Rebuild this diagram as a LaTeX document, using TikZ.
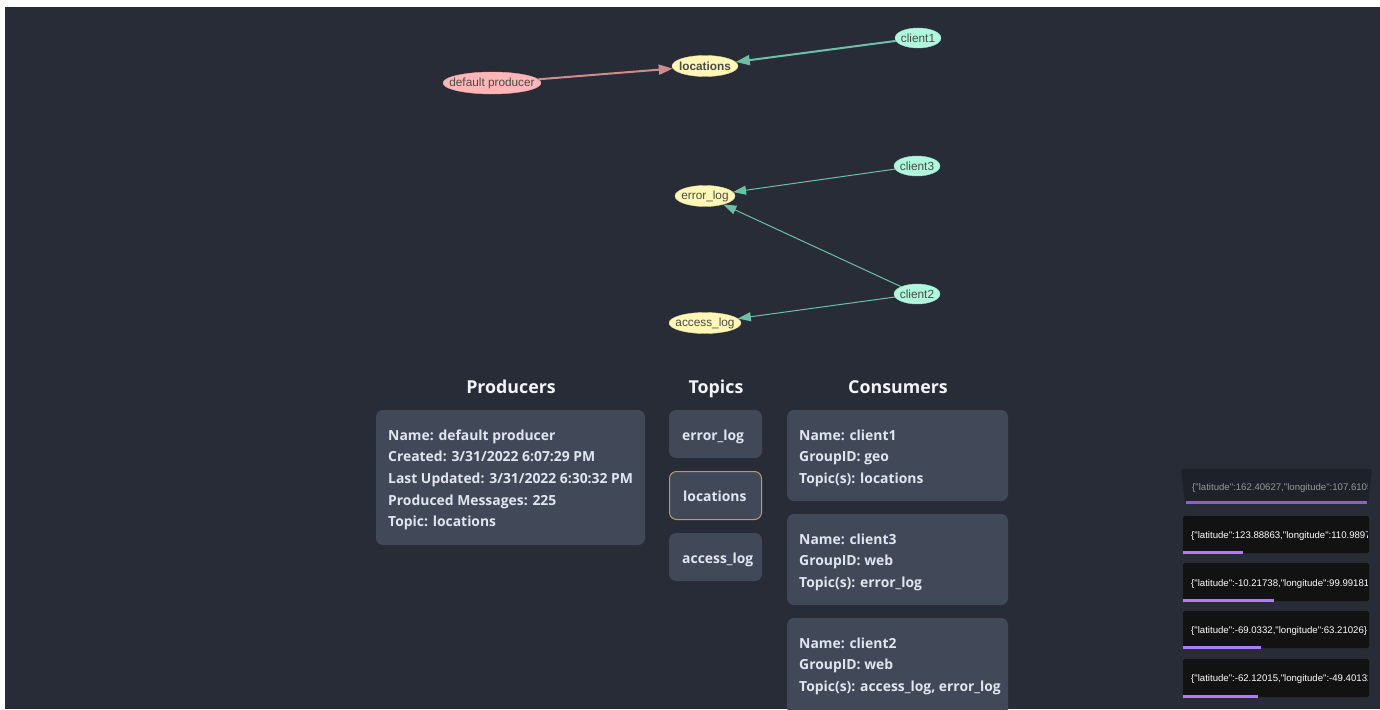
\documentclass[tikz,border=0pt]{standalone}
\usepackage{fontspec}
\setmainfont{Open Sans}
\newfontfamily\arialfont{Liberation Sans}
\usetikzlibrary{shapes.geometric,arrows.meta}
\definecolor{bgc}{HTML}{282C37}
\definecolor{panelc}{HTML}{414858}
\definecolor{ptext}{HTML}{E1E6EE}
\definecolor{htext}{HTML}{F2F4F7}
\definecolor{pinkfill}{HTML}{FFB6B6}
\definecolor{pinkedge}{HTML}{D08C8C}
\definecolor{yelfill}{HTML}{FFF7B3}
\definecolor{mintfill}{HTML}{AEF8DE}
\definecolor{mintedge}{HTML}{6CC0A4}
\definecolor{gtext}{HTML}{4A4A4A}
\definecolor{goldc}{HTML}{B89C68}
\definecolor{toastc}{HTML}{121212}
\definecolor{toastfade}{HTML}{1E2129}
\definecolor{purplec}{HTML}{B07CF5}
\definecolor{purplefade}{HTML}{8A63C0}
\newcommand{\zw}[1]{\makebox[0pt][c]{#1}}
\begin{document}
\begin{tikzpicture}[x=1pt,y=-1pt,
  gnode/.style={ellipse, inner sep=0pt, text=gtext, font=\arialfont\fontsize{11.8}{13}\selectfont},
  prodnode/.style={gnode, fill=pinkfill, draw=pinkfill!88!black, minimum width=98, minimum height=22},
  topicnode/.style={gnode, fill=yelfill, draw=yelfill!88!black, minimum height=21},
  consnode/.style={gnode, fill=mintfill, draw=mintfill!88!black, minimum width=46, minimum height=20},
  thickedge/.style={line width=2pt, -{Triangle[length=14pt,width=10pt]}},
  thinedge/.style={line width=1pt, mintedge, -{Triangle[length=13pt,width=9pt]}},
  heading/.style={anchor=base, text=htext, font=\bfseries\fontsize{17.8}{22}\selectfont, inner sep=0pt},
  ptline/.style={anchor=base west, text=ptext, font=\bfseries\fontsize{13.9}{16}\selectfont, inner sep=0pt},
  panel/.style={fill=panelc, rounded corners=7pt},
  toastbox/.style={fill=toastc, rounded corners=1.5pt},
  toasttext/.style={anchor=base west, text=white, inner sep=0pt, font=\arialfont\fontsize{9.6}{11}\selectfont},
  bar/.style={fill=purplec}
]
\useasboundingbox (0,0) rectangle (1380,709);
\fill[white] (0,0) rectangle (1380,709);
\fill[bgc] (5,7) rectangle (1380,709);

% ---------- graph ----------
\node[prodnode] (dp) at (492,83) {\zw{default producer}};
\node[topicnode, minimum width=66, font=\arialfont\bfseries\fontsize{11.8}{13}\selectfont] (loc) at (705,66) {\zw{locations}};
\node[consnode] (c1) at (918,38) {\zw{client1}};
\node[topicnode, minimum width=60] (err) at (705,196) {\zw{error\_log}};
\node[consnode] (c3) at (917,166) {\zw{client3}};
\node[consnode] (c2) at (917,294) {\zw{client2}};
\node[topicnode, minimum width=72] (acc) at (705,323) {\zw{access\_log}};

\draw[thickedge, pinkedge] (dp) -- (loc);
\draw[thickedge, mintedge] (c1) -- (loc);
\draw[thinedge] (c3) -- (err);
\draw[thinedge] (c2) -- (err);
\draw[thinedge] (c2) -- (acc);

% ---------- headings ----------
\node[heading] (hprod) at (511,393) {Producers};
\node[heading] (htop) at (716,393) {Topics};
\node[heading] (hcons) at (898,393) {Consumers};

% ---------- producer panel ----------
\fill[panel] (376,410) rectangle (645,545);
\node[ptline] (p1) at (388,440) {Name: default producer};
\node[ptline] (p2) at (388,461.7) {Created: 3/31/2022 6:07:29 PM};
\node[ptline] (p3) at (388,483.4) {Last Updated: 3/31/2022 6:30:32 PM};
\node[ptline] (p4) at (388,505.1) {Produced Messages: 225};
\node[ptline] (p5) at (388,526.8) {Topic: locations};

% ---------- topics ----------
\fill[panel] (669,410) rectangle (762,458);
\node[ptline] (t1) at (682,440) {error\_log};
\filldraw[panel, draw=goldc, line width=1pt] (669.5,471.5) rectangle (761.5,519.5);
\node[ptline] (t2) at (683,501) {locations};
\fill[panel] (669,533) rectangle (762,581);
\node[ptline] (t3) at (682,563) {access\_log};

% ---------- consumers ----------
\fill[panel] (787,410) rectangle (1008,501);
\node[ptline] (a1) at (799,440) {Name: client1};
\node[ptline] (a2) at (799,461.7) {GroupID: geo};
\node[ptline] (a3) at (799,483.4) {Topic(s): locations};
\fill[panel] (787,514) rectangle (1008,605);
\node[ptline] (b1) at (799,544) {Name: client3};
\node[ptline] (b2) at (799,565.7) {GroupID: web};
\node[ptline] (b3) at (799,587.4) {Topic(s): error\_log};
\fill[panel] (787,618) rectangle (1008,715);
\node[ptline] (d1) at (799,648) {Name: client2};
\node[ptline] (d2) at (799,669.7) {GroupID: web};
\node[ptline] (d3) at (799,691.4) {Topic(s): access\_log, error\_log};

% ---------- toasts ----------
\fill[toastfade, rounded corners=1.5pt] (1181,469) -- (1372,469) -- (1368,504) -- (1185,504) -- cycle;
\fill[purplefade] (1186,501) rectangle (1367,503.5);
\fill[toastbox] (1183,516) rectangle (1369,553);
\fill[bar] (1183,551) rectangle (1243,553.5);
\fill[toastbox] (1183,563) rectangle (1369,601);
\fill[bar] (1183,599) rectangle (1274,601.5);
\fill[toastbox] (1183,611) rectangle (1369,648);
\fill[bar] (1183,646) rectangle (1261,648.5);
\fill[toastbox] (1183,659) rectangle (1369,697);
\fill[bar] (1183,695) rectangle (1258,697.5);
\begin{scope}
\clip (1150,460) rectangle (1367,709);
\node[toasttext, text=white!60!black] (s1) at (1192,490) {\{"latitude":162.40627,"longitude":107.61050\}};
\node[toasttext] (s2) at (1191,538.5) {\{"latitude":123.88863,"longitude":110.98970\}};
\node[toasttext] (s3) at (1191,586) {\{"latitude":-10.21738,"longitude":99.99181\}};
\node[toasttext] (s4) at (1191,633.5) {\{"latitude":-69.0332,"longitude":63.21026\}};
\node[toasttext] (s5) at (1191,681.5) {\{"latitude":-62.12015,"longitude":-49.40132\}};
\end{scope}
\end{tikzpicture}
\end{document}
